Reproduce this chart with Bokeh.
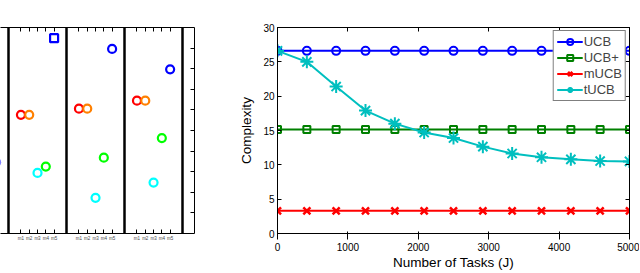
from bokeh.plotting import figure
from bokeh.layouts import row
from bokeh.models import LinearAxis, FixedTicker, Range1d, GlobalInlineStyleSheet, Legend, LegendItem
from bokeh.embed import file_html
from bokeh.resources import INLINE

FONT = "Liberation Sans"

# ---------------- right chart data ----------------
tasks = [0, 417, 833, 1250, 1667, 2083, 2500, 2917, 3333, 3750, 4167, 4583, 5000]
ucb = [26.6, 26.6, 26.6, 26.6, 26.6, 26.6, 26.6, 26.6, 26.6, 26.6, 26.6, 26.6, 26.6]
ucb_plus = [15.15, 15.15, 15.15, 15.15, 15.15, 15.15, 15.15, 15.15, 15.15, 15.15, 15.15, 15.15, 15.15]
mucb = [3.3, 3.3, 3.3, 3.3, 3.3, 3.3, 3.3, 3.3, 3.3, 3.3, 3.3, 3.3, 3.3]
tucb = [26.6, 25.0, 21.4, 17.9, 16.0, 14.7, 13.9, 12.65, 11.65, 11.1, 10.8, 10.55, 10.5]
x_ticks = [0, 1000, 2000, 3000, 4000, 5000]
y_ticks = [0, 5, 10, 15, 20, 25, 30]

# ---------------- left fragment data ----------------
models = ["m1", "m2", "m3", "m4", "m5"]
model_colors = ["#ff0000", "#ff8000", "#00ffff", "#00ff00", "#0000ff"]
panel1 = [5.76, 5.76, 2.94, 3.25, 9.48]
panel1_markers = ["circle", "circle", "circle", "circle", "square"]
panel2 = [6.06, 6.06, 1.73, 3.68, 8.96]
panel3 = [6.45, 6.45, 2.47, 4.63, 7.97]
panel0_m5 = [3.46]
left_y_ticks = [1, 2, 3, 4, 5, 6, 7, 8, 9]


def hide_labels(ax):
    ax.major_label_text_font_size = "0px"
    ax.major_label_text_color = None
    ax.major_label_standoff = 0


# ================= left figure =================
PW = 7  # panel width in model units
lp = figure(width=200, height=272, x_range=Range1d(6.035, 29.44), y_range=Range1d(0, 10),
            output_backend="svg", toolbar_location=None,
            x_axis_location=None, y_axis_location=None,
            min_border_left=0, min_border_right=6, min_border_top=27, min_border_bottom=14)
lp.outline_line_color = None
lp.xgrid.visible = False
lp.ygrid.visible = False


def mpos(panel, j):
    return PW * panel + 1.5 + j


tick_pos = []
labels = {}
for pnl in (1, 2, 3):
    for j, m in enumerate(models):
        x = mpos(pnl, j)
        tick_pos.append(x)
        labels[x] = m

panels = [(1, panel1, panel1_markers), (2, panel2, ["circle"] * 5), (3, panel3, ["circle"] * 5)]
for pnl, vals, mk in panels:
    for j, v in enumerate(vals):
        lp.scatter([mpos(pnl, j)], [v], marker=mk[j], size=8,
                   fill_color=None, line_color=model_colors[j], line_width=2.2)
lp.scatter([mpos(0, 4)], panel0_m5, marker="circle", size=8, fill_color=None,
           line_color=model_colors[4], line_width=2.2)

edges = [PW * k for k in (1, 2, 3, 4)]
lp.vspan(x=edges, line_color="black", line_width=2.5)

bot = LinearAxis(ticker=FixedTicker(ticks=tick_pos), major_label_overrides=labels)
bot.major_label_text_font_size = "4.5px"
bot.major_label_text_font = FONT
bot.major_label_standoff = 2
top = LinearAxis(ticker=FixedTicker(ticks=tick_pos))
hide_labels(top)
rgt = LinearAxis(ticker=FixedTicker(ticks=left_y_ticks))
hide_labels(rgt)
for ax in (bot, top, rgt):
    ax.major_tick_in = 4
    ax.major_tick_out = 0
    ax.minor_tick_line_color = None
    ax.axis_line_color = "black"
    ax.major_tick_line_color = "black"
lp.add_layout(bot, "below")
lp.add_layout(top, "above")
lp.add_layout(rgt, "right")

# ================= right figure =================
p = figure(width=439, height=272, x_range=Range1d(0, 5000), y_range=Range1d(0, 30),
           output_backend="svg", toolbar_location=None,
           min_border_left=77, min_border_right=10, min_border_top=3, min_border_bottom=28)
p.xgrid.visible = False
p.ygrid.visible = False
p.outline_line_color = "black"

series = [
    ("UCB", ucb, "#0000ff", "circle", 8, 2),
    ("UCB+", ucb_plus, "#008000", "square", 7, 2),
    ("mUCB", mucb, "#ff0000", "x", 10, 2.5),
    ("tUCB", tucb, "#00bfbf", "asterisk", 13, 2),
]
items = []
for name, vals, col, mk, sz, lw in series:
    r1 = p.line(tasks, vals, line_color=col, line_width=2)
    r2 = p.scatter(tasks, vals, marker=mk, size=sz, line_color=col, line_width=lw, fill_color=None)
    items.append(LegendItem(label=name, renderers=[r1, r2]))

leg = Legend(items=items, location="top_right")
leg.border_line_color = "black"
leg.border_line_width = 1
leg.background_fill_color = "white"
leg.background_fill_alpha = 1
leg.label_text_font = FONT
leg.label_text_font_size = "13px"
leg.glyph_width = 26
leg.glyph_height = 15
leg.label_height = 15
leg.label_standoff = 1
leg.spacing = 1
leg.padding = 3
leg.margin = 3
p.add_layout(leg)

p.xaxis.ticker = FixedTicker(ticks=x_ticks)
p.yaxis.ticker = FixedTicker(ticks=y_ticks)
p.xaxis.axis_label = "Number of Tasks (J)"
p.yaxis.axis_label = "Complexity"
for ax in (p.xaxis[0], p.yaxis[0]):
    ax.major_label_text_font = FONT
    ax.major_label_text_font_size = "10px"
    ax.major_label_text_color = "black"
    ax.axis_label_text_font = FONT
    ax.axis_label_text_font_size = "13.5px"
    ax.axis_label_text_font_style = "normal"
    ax.axis_label_text_color = "black"
p.xaxis.major_label_standoff = 3
p.yaxis.major_label_standoff = 3
p.xaxis.axis_label_standoff = 1
p.yaxis.axis_label_standoff = 6

ptop = LinearAxis(ticker=FixedTicker(ticks=x_ticks))
hide_labels(ptop)
prgt = LinearAxis(ticker=FixedTicker(ticks=y_ticks))
hide_labels(prgt)
p.add_layout(ptop, "above")
p.add_layout(prgt, "right")
for ax in (p.xaxis[0], p.yaxis[0], ptop, prgt):
    ax.major_tick_in = 4
    ax.major_tick_out = 0
    ax.minor_tick_line_color = None
    ax.axis_line_color = "black"
    ax.major_tick_line_color = "black"

layout = row(lp, p, stylesheets=[GlobalInlineStyleSheet(css="body { margin: 0 !important; overflow: hidden; }")])

open("out.html", "w").write(file_html(layout, INLINE))
